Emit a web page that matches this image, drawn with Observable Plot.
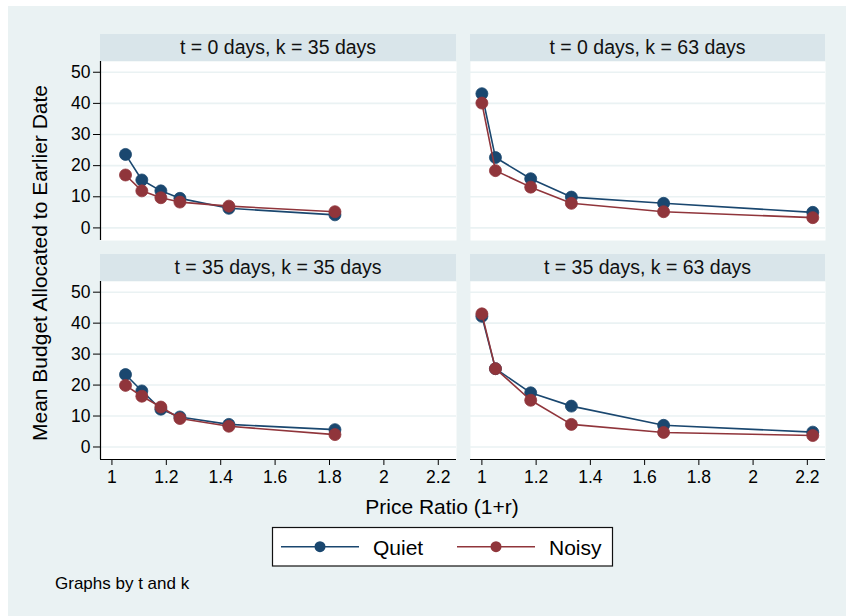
<!DOCTYPE html>
<html>
<head>
<meta charset="utf-8">
<script src="https://cdn.jsdelivr.net/npm/d3@7"></script>
<script src="https://cdn.jsdelivr.net/npm/@observablehq/plot@0.6"></script>
<style>
  html, body { margin: 0; padding: 0; background: #ffffff; }
  #chart { position: relative; width: 846px; height: 616px; overflow: hidden; font-family: "Liberation Sans", Arial, sans-serif; color: #000; }
  #bg { position: absolute; left: 8px; top: 6px; right: 0; bottom: 0; background: #eaf2f3; }
  .strip { position: absolute; background: #d9e5ea; text-align: center; font-size: 19.5px; line-height: 27px; height: 27px; color: #111; white-space: nowrap; }
  .abs { position: absolute; }
  .abs svg { overflow: visible; }
</style>
</head>
<body>
<div id="chart"><div id="bg"></div></div>
<script>
// ---------------- data ----------------
const panelTitles = ["t = 0 days, k = 35 days", "t = 0 days, k = 63 days", "t = 35 days, k = 35 days", "t = 35 days, k = 63 days"];
const seriesNames = ["Quiet", "Noisy"];
const seriesColors = ["#1a476f", "#90353b"];
const ratioK35 = [1.05, 1.11, 1.18, 1.25, 1.43, 1.82];
const ratioK63 = [1.00, 1.05, 1.18, 1.33, 1.67, 2.22];
const quietT0K35 = [23.6, 15.4, 11.9, 9.5, 6.3, 4.2];
const noisyT0K35 = [17.0, 11.9, 9.7, 8.3, 7.0, 5.2];
const quietT0K63 = [43.1, 22.6, 15.8, 9.9, 7.9, 5.0];
const noisyT0K63 = [40.1, 18.4, 13.1, 7.9, 5.2, 3.3];
const quietT35K35 = [23.4, 18.1, 12.2, 9.7, 7.3, 5.6];
const noisyT35K35 = [19.9, 16.4, 12.9, 9.2, 6.7, 4.0];
const quietT35K63 = [42.2, 25.3, 17.5, 13.2, 7.0, 4.8];
const noisyT35K63 = [43.0, 25.3, 15.1, 7.3, 4.7, 3.7];
const xTicks = [1, 1.2, 1.4, 1.6, 1.8, 2, 2.2];
const yTicks = [0, 10, 20, 30, 40, 50];
const xTitle = "Price Ratio (1+r)";
const yTitle = "Mean Budget Allocated to Earlier Date";
const note = "Graphs by t and k";

const panelRatios = [ratioK35, ratioK63, ratioK35, ratioK63];
const panelQuiet = [quietT0K35, quietT0K63, quietT35K35, quietT35K63];
const panelNoisy = [noisyT0K35, noisyT0K63, noisyT35K35, noisyT35K63];

// ---------------- layout ----------------
const chart = document.getElementById("chart");
const xDomain = [0.958, 2.267];
const yDomain = [-4.04, 53.45];
const layout = [
  {left: 100, top: 61, w: 356, h: 179, showY: true, showX: false},
  {left: 470, top: 61, w: 355, h: 179, showY: false, showX: false},
  {left: 100, top: 281, w: 356, h: 178, showY: true, showX: true},
  {left: 470, top: 281, w: 355, h: 178, showY: false, showX: true}
];
const gridColor = "#eaf2f3";

layout.forEach((L, i) => {
  // strip
  const s = document.createElement("div");
  s.className = "strip";
  s.style.left = L.left + "px";
  s.style.top = (L.top - 27) + "px";
  s.style.width = L.w + "px";
  s.textContent = panelTitles[i];
  chart.appendChild(s);

  const mL = L.showY ? 100 : 0;
  const mB = L.showX ? 40 : 0;
  const rows = seriesNames.map((name, k) => panelRatios[i].map((x, j) => ({
    series: name, x, y: (k === 0 ? panelQuiet[i] : panelNoisy[i])[j]
  })));

  const marks = [
    Plot.frame({fill: "white", stroke: null}),
    Plot.gridY(yTicks, {stroke: gridColor, strokeOpacity: 1, strokeWidth: 1.6})
  ];
  if (L.showY) {
    marks.push(Plot.axisY(yTicks, {tickSize: 7, tickPadding: 3, fontSize: 17.5, label: null, tickFormat: d3.format("~g")}));
    marks.push(Plot.ruleX([xDomain[0]], {stroke: "#000", strokeWidth: 1.2}));
  }
  if (L.showX) {
    marks.push(Plot.axisX(xTicks, {tickSize: 6, tickPadding: 5, fontSize: 17.5, label: null, tickFormat: d3.format("~g")}));
    marks.push(Plot.ruleY([yDomain[0]], {stroke: "#000", strokeWidth: 1.2}));
  }
  rows.forEach((r, k) => {
    marks.push(Plot.line(r, {x: "x", y: "y", stroke: seriesColors[k], strokeWidth: 1.6}));
    marks.push(Plot.dot(r, {x: "x", y: "y", r: 6, fill: seriesColors[k], stroke: seriesColors[k], strokeWidth: 0.8}));
  });

  const plot = Plot.plot({
    width: mL + L.w,
    height: L.h + mB,
    marginLeft: mL, marginRight: 0, marginTop: 0, marginBottom: mB,
    x: {domain: xDomain, axis: null},
    y: {domain: yDomain, axis: null},
    style: {background: "transparent", fontFamily: "Liberation Sans, Arial, sans-serif", color: "#000", overflow: "visible"},
    marks
  });
  const wrap = document.createElement("div");
  wrap.className = "abs";
  wrap.style.left = (L.left - mL) + "px";
  wrap.style.top = L.top + "px";
  wrap.appendChild(plot);
  chart.appendChild(wrap);
});

// y title
const yt = document.createElement("div");
yt.className = "abs";
Object.assign(yt.style, {left: (40 - 200) + "px", top: (263 - 15) + "px", width: "400px", height: "30px", lineHeight: "30px", textAlign: "center", fontSize: "21px", transform: "rotate(-90deg)", whiteSpace: "nowrap"});
yt.textContent = yTitle;
chart.appendChild(yt);

// x title
const xt = document.createElement("div");
xt.className = "abs";
Object.assign(xt.style, {left: (442 - 150) + "px", top: "495px", width: "300px", lineHeight: "24px", textAlign: "center", fontSize: "21px", whiteSpace: "nowrap"});
xt.textContent = xTitle;
chart.appendChild(xt);

// legend
const leg = d3.select(chart).append("svg")
  .attr("width", 342).attr("height", 40)
  .style("position", "absolute").style("left", "272px").style("top", "527px").style("overflow", "visible");
leg.append("rect").attr("x", 0.5).attr("y", 0.5).attr("width", 340).attr("height", 38.5)
  .attr("fill", "white").attr("stroke", "#111").attr("stroke-width", 1.2);
const legX = [9, 185];
seriesNames.forEach((name, k) => {
  const g = leg.append("g").attr("transform", `translate(${legX[k]},0)`);
  g.append("line").attr("x1", 0).attr("x2", 78).attr("y1", 19.7).attr("y2", 19.7)
    .attr("stroke", seriesColors[k]).attr("stroke-width", 1.6);
  g.append("circle").attr("cx", 39).attr("cy", 19.7).attr("r", 5.5).attr("fill", seriesColors[k]);
  g.append("text").attr("x", 92).attr("y", 28).attr("font-size", 21)
    .attr("font-family", "Liberation Sans, Arial, sans-serif").attr("fill", "#000").text(name);
});

// note
const nt = document.createElement("div");
nt.className = "abs";
Object.assign(nt.style, {left: "55px", top: "575px", lineHeight: "18px", fontSize: "17px", whiteSpace: "nowrap"});
nt.textContent = note;
chart.appendChild(nt);
</script>
</body>
</html>
